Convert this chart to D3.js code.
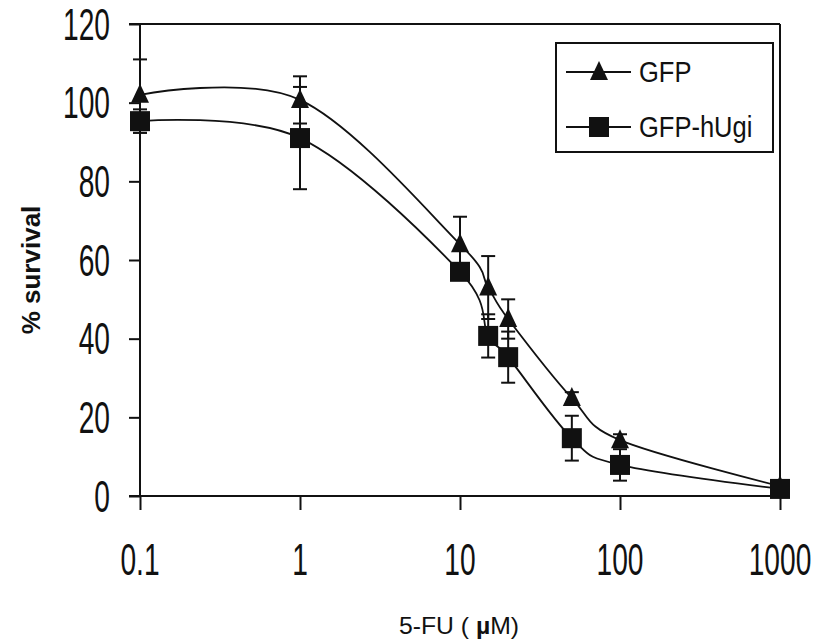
<!DOCTYPE html>
<html><head><meta charset="utf-8">
<script src="https://cdn.jsdelivr.net/npm/d3@7/dist/d3.min.js"></script>
<style>body{margin:0;background:#fff}svg{display:block}</style>
</head><body><svg id="c" width="820" height="643"></svg>
<script>
const concentrations = [0.1, 1, 10, 15, 20, 50, 100, 1000];
const gfp      = [102, 100.7, 64, 53, 45, 24.9, 14.2, 2.5];
const gfpErr   = [9, 6, 7, 8, 5, 1.5, 1.5, 0.5];
const hugi     = [95.3, 91, 57, 40.7, 35.3, 14.7, 7.9, 1.8];
const hugiErr  = [3, 13, 2, 5.5, 6.5, 5.7, 4, 0.5];
const xTicks = [0.1, 1, 10, 100, 1000];
const xTickLabels = ["0.1", "1", "10", "100", "1000"];
const yTicks = [0, 20, 40, 60, 80, 100, 120];
const seriesNames = ["GFP", "GFP-hUgi"];

const svg = d3.select("#c");
const L = 140, R = 780, T = 24, B = 496;
const x = d3.scaleLog().domain([0.1, 1000]).range([L, R]);
const y = d3.scaleLinear().domain([0, 120]).range([B, T]);
const ink = "#111";
const font = "'Liberation Sans', Arial, sans-serif";

// axes
const xAxis = d3.axisBottom(x).tickValues(xTicks).tickSize(14).tickFormat("");
const gx = svg.append("g").attr("transform", `translate(0,${B})`).call(xAxis);
gx.select(".domain").remove();
gx.selectAll(".tick line").attr("stroke", ink).attr("stroke-width", 2);
const yAxis = d3.axisLeft(y).tickValues(yTicks).tickSize(11).tickFormat("");
const gy = svg.append("g").attr("transform", `translate(${L},0)`).call(yAxis);
gy.select(".domain").remove();
gy.selectAll(".tick line").attr("stroke", ink).attr("stroke-width", 2);
// frame lines
svg.append("line").attr("x1", L - 11).attr("x2", R).attr("y1", B).attr("y2", B).attr("stroke", ink).attr("stroke-width", 2);
svg.append("line").attr("x1", L - 11).attr("x2", R).attr("y1", T).attr("y2", T).attr("stroke", ink).attr("stroke-width", 2);
svg.append("line").attr("x1", L).attr("x2", L).attr("y1", T).attr("y2", B).attr("stroke", ink).attr("stroke-width", 2);
svg.append("line").attr("x1", R).attr("x2", R).attr("y1", T).attr("y2", B).attr("stroke", ink).attr("stroke-width", 2);

// tick labels
svg.selectAll(".ylab").data(yTicks).enter().append("text")
  .attr("transform", d => `translate(110,${y(d) + 15.5}) scale(0.64,1)`)
  .attr("text-anchor", "end").attr("font-family", font).attr("font-size", 44).attr("fill", ink)
  .text(d => d);
svg.selectAll(".xlab").data(xTicks).enter().append("text")
  .attr("transform", (d) => `translate(${x(d)},575) scale(0.64,1)`)
  .attr("text-anchor", "middle").attr("font-family", font).attr("font-size", 44).attr("fill", ink)
  .text((d, i) => xTickLabels[i]);

// axis titles
const xt = svg.append("text").attr("transform", "translate(459,634) scale(1.03,1)")
  .attr("text-anchor", "middle").attr("font-family", font).attr("font-size", 24).attr("fill", ink);
xt.append("tspan").text("5-FU ( ");
xt.append("tspan").attr("font-weight", "bold").text("µ");
xt.append("tspan").text("M)");
svg.append("text").attr("transform", "translate(40,270) rotate(-90)")
  .attr("text-anchor", "middle").attr("font-family", font).attr("font-size", 26)
  .attr("font-weight", "bold").attr("fill", ink).text("% survival");

// curves
const line = d3.line().x(d => x(d[0])).y(d => y(d[1])).curve(d3.curveCardinal.tension(0));
const series = [
  {name: seriesNames[0], vals: gfp, err: gfpErr, shape: "tri"},
  {name: seriesNames[1], vals: hugi, err: hugiErr, shape: "sq"}
];
series.forEach(s => {
  svg.append("path").attr("d", line(concentrations.map((c, i) => [c, s.vals[i]])))
    .attr("fill", "none").attr("stroke", ink).attr("stroke-width", 1.8);
});
// error bars
series.forEach(s => {
  concentrations.forEach((c, i) => {
    const cx = x(c), y1 = y(s.vals[i] + s.err[i]), y2 = y(s.vals[i] - s.err[i]);
    svg.append("line").attr("x1", cx).attr("x2", cx).attr("y1", y1).attr("y2", y2).attr("stroke", ink).attr("stroke-width", 2);
    [y1, y2].forEach(yy => svg.append("line").attr("x1", cx - 7).attr("x2", cx + 7).attr("y1", yy).attr("y2", yy).attr("stroke", ink).attr("stroke-width", 2));
  });
});
function marker(g, shape, cx, cy) {
  if (shape === "tri") {
    g.append("path").attr("d", `M${cx},${cy - 11}L${cx + 9},${cy + 8}L${cx - 9},${cy + 8}Z`).attr("fill", ink);
  } else {
    g.append("rect").attr("x", cx - 10).attr("y", cy - 10).attr("width", 20).attr("height", 20).attr("fill", ink);
  }
}
series.forEach(s => {
  concentrations.forEach((c, i) => marker(svg, s.shape, x(c), y(s.vals[i])));
});

// legend
svg.append("rect").attr("x", 556).attr("y", 43).attr("width", 217).attr("height", 109)
  .attr("fill", "#fff").attr("stroke", ink).attr("stroke-width", 2);
series.forEach((s, i) => {
  const ly = 72 + i * 55;
  svg.append("line").attr("x1", 566).attr("x2", 631).attr("y1", ly).attr("y2", ly).attr("stroke", ink).attr("stroke-width", 2);
  marker(svg, s.shape, 599, ly);
  svg.append("text").attr("transform", `translate(639,${ly + 10}) scale(0.88,1)`)
    .attr("font-family", font).attr("font-size", 29).attr("fill", ink).text(s.name);
});
</script></body></html>
